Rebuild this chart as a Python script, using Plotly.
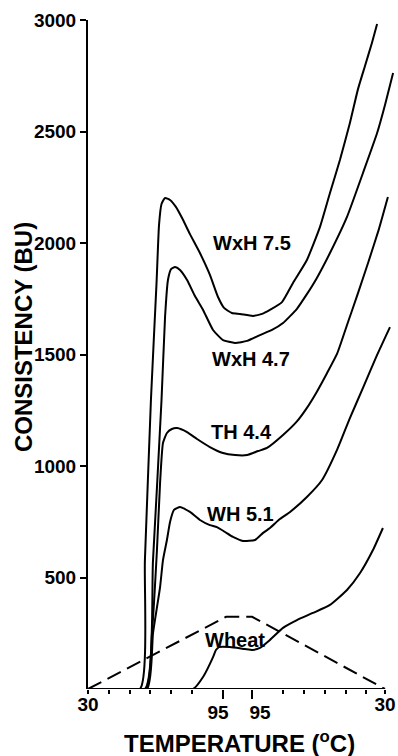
import plotly.graph_objects as go

# x = time in minutes (heating 30 -> 95 °C, hold at 95 °C, cooling 95 -> 30 °C)
# y = consistency in Brabender units (BU)

wxh75_t = [0, 25.0, 27.4, 30.3, 33.0, 34.2, 35.4, 37.1, 39.5, 42.4, 45.3, 49.1, 53.9, 58.7, 62.6,
           65.5, 69.3, 73.2, 79.4, 83.8, 87.6, 93.4, 98.7, 105.4, 111.7, 116.5, 121.3, 126.1,
           130.0, 133.4, 136.7, 139.2]
wxh75_bu = [0, 0, 578, 1296, 1821, 2081, 2175, 2202, 2193, 2161, 2112, 2040, 1955, 1857, 1758,
            1709, 1686, 1682, 1673, 1682, 1700, 1735, 1821, 1924, 2072, 2224, 2372, 2538,
            2690, 2795, 2897, 2982]

wxh47_t = [0, 27.4, 31.3, 35.4, 37.1, 38.5, 40.0, 41.9, 44.3, 47.7, 51.5, 55.4, 60.2, 65.0,
           70.8, 76.6, 82.8, 88.6, 93.9, 100.6, 105.0, 110.0, 116.5, 124.7, 132.4,
           139.2, 143.0, 146.9]
wxh47_bu = [0, 0, 578, 1296, 1668, 1834, 1883, 1892, 1879, 1834, 1762, 1700, 1610, 1565,
            1552, 1561, 1587, 1610, 1641, 1705, 1765, 1840, 1955, 2117, 2314,
            2493, 2619, 2762]

th44_t = [0, 27.9, 30.8, 33.2, 34.7, 36.1, 38.0, 40.4, 42.9, 47.7, 52.5, 58.7, 65.0, 70.8,
          76.6, 81.9, 86.2, 93.9, 100.6, 105.0, 110.0, 115.0, 120.0, 125.0, 130.0, 135.0,
          140.0, 144.4]
th44_bu = [0, 0, 251, 623, 924, 1103, 1148, 1166, 1170, 1152, 1121, 1085, 1058, 1049,
           1049, 1067, 1081, 1139, 1200, 1255, 1330, 1415, 1505, 1640, 1775, 1915,
           2060, 2206]

wh51_t = [0, 28.4, 31.3, 34.7, 36.1, 38.0, 39.5, 41.4, 44.3, 46.7, 49.1, 53.9, 58.7, 62.1,
          66.0, 69.8, 74.6, 80.4, 84.3, 87.6, 92.4, 97.3, 105.4, 112.7, 119.9, 126.1,
          132.4, 139.2, 145.4]
wh51_bu = [0, 0, 251, 457, 578, 668, 749, 803, 816, 807, 794, 758, 735, 726,
           704, 682, 664, 668, 700, 722, 762, 794, 861, 937, 1072, 1215,
           1350, 1498, 1623]

wheat_t = [0, 50.6, 55.4, 60.2, 61.6, 63.1, 68.4, 75.6, 79.4, 82.8, 87.6, 93.9, 100.6,
           108.3, 116.5, 124.7, 131.0, 137.2, 142.0]
wheat_bu = [0, 0, 54, 143, 175, 188, 188, 179, 175, 184, 220, 274, 309,
            341, 377, 444, 520, 623, 722]

# temperature programme drawn as dashed line (scaled onto BU axis)
temp_t = [0, 66.5, 79, 143]
temp_bu = [0, 324, 324, 0]

# axis ticks
y_tick_vals = [500, 1000, 1500, 2000, 2500, 3000]
y_tick_text = ["500", "1000", "1500", "2000", "2500", "3000"]
x_end_vals = [0, 143]
x_end_text = ["30", "30"]
x_hold_start = [65]
x_hold_end = [79]
x_hold_text = ["95"]
x_minor_vals = [10, 20, 30, 40, 50, 94, 104, 114, 124, 134]
x_view = [0, 148.3]

# curve labels
label_text = ["WxH 7.5", "WxH 4.7", "TH 4.4", "WH 5.1", "Wheat"]
label_t = [79.0, 78.5, 73.7, 73.2, 70.8]
label_bu = [2000, 1480, 1152, 785, 220]

LINE = dict(color="black", width=2)
TICKFONT = dict(family="Liberation Sans", size=19, color="black", weight="bold")

fig = go.Figure()
for tx, ty in [(wxh75_t, wxh75_bu), (wxh47_t, wxh47_bu), (th44_t, th44_bu),
               (wh51_t, wh51_bu), (wheat_t, wheat_bu)]:
    fig.add_trace(go.Scatter(x=tx, y=ty, mode="lines",
                             line=dict(LINE, shape="spline", smoothing=0.5),
                             showlegend=False, hoverinfo="skip"))
fig.add_trace(go.Scatter(x=temp_t, y=temp_bu, mode="lines",
                         line=dict(color="black", width=2, dash="15px,7px"),
                         showlegend=False, hoverinfo="skip"))
fig.add_trace(go.Scatter(x=[None], y=[None], xaxis="x2", showlegend=False, hoverinfo="skip"))
fig.add_trace(go.Scatter(x=[None], y=[None], xaxis="x3", showlegend=False, hoverinfo="skip"))

# x-axis baseline spanning the temperature programme (30 °C to 30 °C)
fig.add_shape(type="line", xref="x", yref="y", x0=x_end_vals[0], x1=x_end_vals[1], y0=0, y1=0,
              line=dict(color="black", width=2), layer="above")

for txt, tx, ty in zip(label_text, label_t, label_bu):
    fig.add_annotation(x=tx, y=ty, xref="x", yref="y", text=txt, showarrow=False,
                       xanchor="center", yanchor="middle",
                       font=dict(family="Liberation Sans", size=20, color="black", weight="bold"))

fig.add_annotation(x=-0.211, y=0.526, xref="paper", yref="paper", text="CONSISTENCY (BU)",
                   textangle=-90, showarrow=False, xanchor="center", yanchor="middle",
                   font=dict(family="Liberation Sans", size=24, color="black", weight="bold"))
fig.add_annotation(x=0.4935, y=-0.079, xref="paper", yref="paper",
                   text="TEMPERATURE (<sup>o</sup>C)", showarrow=False,
                   xanchor="center", yanchor="middle",
                   font=dict(family="Liberation Sans", size=24, color="black", weight="bold"))

common_x = dict(range=x_view, showgrid=False, zeroline=False, showline=False)
fig.update_layout(
    width=398, height=756, autosize=False,
    margin=dict(l=88, r=2, t=20, b=67, pad=0),
    paper_bgcolor="white", plot_bgcolor="white",
    xaxis=dict(common_x,
               tickmode="array", tickvals=x_end_vals, ticktext=x_end_text,
               ticks="outside", ticklen=4, tickwidth=2, tickcolor="black",
               tickfont=TICKFONT, ticklabelstandoff=-6,
               minor=dict(tickmode="array", tickvals=x_minor_vals, ticks="outside",
                          ticklen=4, tickwidth=2, tickcolor="black", showgrid=False)),
    xaxis2=dict(common_x, overlaying="x", anchor="y", side="bottom",
                tickmode="array", tickvals=x_hold_start, ticktext=x_hold_text,
                ticks="outside", ticklen=9, tickwidth=2, tickcolor="black",
                tickfont=TICKFONT, ticklabelshift=-5, ticklabelstandoff=-3),
    xaxis3=dict(common_x, overlaying="x", anchor="y", side="bottom",
                tickmode="array", tickvals=x_hold_end, ticktext=x_hold_text,
                ticks="outside", ticklen=9, tickwidth=2, tickcolor="black",
                tickfont=TICKFONT, ticklabelshift=8, ticklabelstandoff=-3),
    yaxis=dict(range=[0, 3000], showgrid=False, zeroline=False, showline=True,
               linecolor="black", linewidth=2, tickmode="array",
               tickvals=y_tick_vals, ticktext=y_tick_text, ticks="outside",
               ticklen=6, tickwidth=2, tickcolor="black", tickfont=TICKFONT),
)

fig.write_html("out.html")
